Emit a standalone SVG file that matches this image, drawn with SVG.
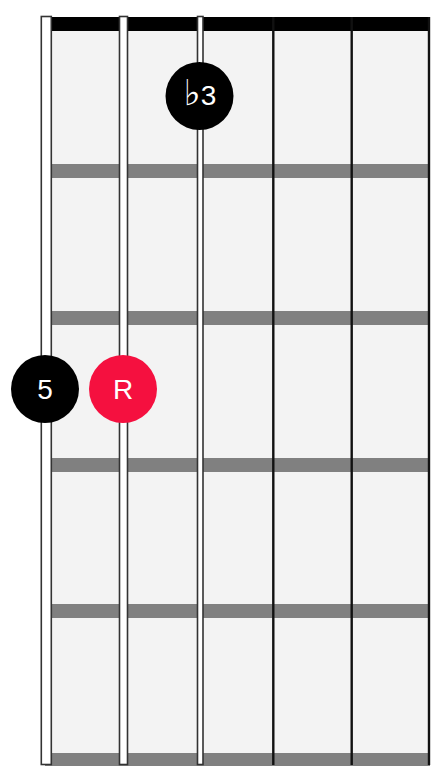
<svg xmlns="http://www.w3.org/2000/svg" width="448" height="778" viewBox="0 0 448 778">
<style>
.fret{fill:#808080}
.thin{stroke:#111;stroke-width:2.4}
.wound{fill:#fff;stroke:#333;stroke-width:1.6}
.dot text{font-family:"Liberation Sans","DejaVu Sans",sans-serif;font-size:28px;fill:#fff;text-anchor:middle}
.dot .flat{font-family:"DejaVu Sans",sans-serif;font-size:36px}
</style>
<rect width="448" height="778" fill="#fff"/>
<g id="board">
<rect x="52" y="31" width="378" height="729" fill="#f3f3f3"/>
<rect x="45" y="17" width="385" height="14" fill="#000"/>
<rect class="fret" x="52" y="164" width="378" height="14"/>
<rect class="fret" x="52" y="311" width="378" height="14"/>
<rect class="fret" x="52" y="458" width="378" height="14"/>
<rect class="fret" x="52" y="604" width="378" height="14"/>
<rect class="fret" x="45" y="753" width="385" height="13"/>
</g>
<g id="strings">
<line class="thin" x1="273.3" y1="17" x2="273.3" y2="765"/>
<line class="thin" x1="351.7" y1="17" x2="351.7" y2="765"/>
<line class="thin" x1="429" y1="17" x2="429" y2="765"/>
<rect class="wound" x="197.5" y="16.5" width="5.5" height="748"/>
<rect class="wound" x="119.5" y="16.5" width="8" height="748"/>
<rect class="wound" x="41.3" y="16.5" width="10" height="748"/>
</g>
<g id="dot-b3" class="dot">
<circle cx="199.5" cy="96" r="34" fill="#000"/>
<text x="200" y="105"><tspan class="flat">♭</tspan><tspan>3</tspan></text>
</g>
<g id="dot-5" class="dot">
<circle cx="45" cy="389" r="34" fill="#000"/>
<text x="45" y="399">5</text>
</g>
<g id="dot-R" class="dot">
<circle cx="123" cy="389" r="34" fill="#f5103f"/>
<text x="123" y="399">R</text>
</g>
</svg>
